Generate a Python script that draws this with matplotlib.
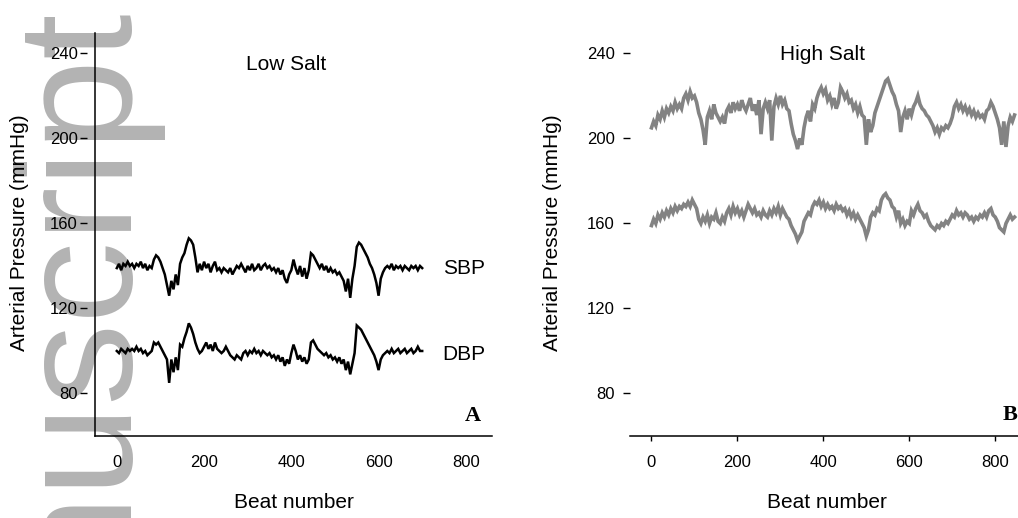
import numpy as np
import matplotlib
matplotlib.use("Agg")
import matplotlib.pyplot as plt

# ---------------- data (one value every 5 beats) ----------------
beat_step = 5

low_sbp = [139,141,138,141,140,142,140,141,139,141,140,142,139,141,138,140,139,
           143,145,144,142,139,136,131,126,133,129,
           136,131,141,144,146,150,153,152,150,144,
           137,141,138,142,139,141,137,140,142,138,
           139,137,139,138,137,139,136,138,140,139,
           141,139,137,140,138,141,138,139,141,138,
           140,
           141,139,140,138,139,137,139,136,138,134,
           132,136,138,143,139,136,140,135,139,134,
           138,146,145,143,141,139,141,138,140,137,
           139,137,138,136,137,135,133,128,134,125,
           134,140,149,151,150,148,146,144,141,139,
           136,132,126,134,137,139,140,139,141,138,
           140,139,140,138,140,139,138,140,139,140,
           138,140,139]

low_dbp = [100,99,101,100,99,101,100,101,100,102,100,101,99,100,98,99,100,
           104,103,104,102,100,98,96,85,96,90,
           97,91,103,102,106,109,113,111,108,104,
           101,99,100,102,104,101,103,100,104,101,
           100,99,100,102,100,98,97,96,98,97,
           96,99,100,98,100,99,101,99,100,98,
           100,
           99,98,99,97,98,96,98,95,97,93,
           96,94,99,103,100,96,98,95,97,94,
           96,104,105,103,101,100,99,98,99,97,
           98,96,97,95,97,94,96,91,95,89,
           94,99,112,111,110,108,106,104,102,100,
           98,95,91,96,98,99,100,99,101,99,
           100,101,99,100,101,99,100,101,99,100,
           102,100,100]

high_sbp = [205,208,206,211,209,213,210,214,212,215,
            213,217,214,216,214,219,221,218,222,219,
            220,217,212,209,204,197,210,213,209,216,
            212,210,208,210,207,213,215,212,217,214,
            216,213,218,215,213,216,219,213,216,211,
            218,202,214,217,214,218,199,215,219,216,
            220,216,218,214,213,207,202,199,195,200,
            197,205,210,213,208,216,214,219,222,224,
            221,223,218,220,216,219,214,217,224,222,
            219,221,217,218,214,216,212,215,211,210,
            197,209,203,206,212,215,218,221,224,227,
            228,225,222,220,216,213,203,210,213,209,
            214,211,215,217,220,216,214,213,211,210,
            208,206,203,205,202,205,204,206,205,207,
            210,215,217,214,216,213,215,212,214,211,
            213,210,212,210,211,209,213,214,217,215,
            212,209,205,197,208,196,206,210,208,211]

high_dbp = [159,162,160,164,162,165,163,166,164,167,
            165,168,166,168,167,169,168,170,168,171,
            169,167,162,160,163,161,164,160,163,162,
            165,161,160,163,161,165,167,164,168,165,
            167,164,166,163,166,169,167,165,167,164,
            165,163,166,164,163,166,164,167,165,168,
            164,167,165,163,162,159,157,155,152,154,
            156,161,163,165,164,168,170,169,171,168,
            170,167,169,167,168,166,169,167,168,166,
            167,164,166,163,165,162,164,162,160,158,
            154,157,163,165,164,167,166,171,173,174,
            172,171,168,167,163,166,160,162,159,161,
            160,166,164,167,169,166,165,163,164,161,
            159,158,157,159,158,160,159,161,160,162,
            164,163,166,164,165,163,165,164,162,163,
            161,163,162,164,163,165,163,166,167,164,
            163,161,158,157,156,160,162,164,162,163]

x_ticks = [0, 200, 400, 600, 800]
y_ticks = [80, 120, 160, 200, 240]
panel_titles = ["Low Salt", "High Salt"]
series_names = ["SBP", "DBP"]
panel_letters = ["A", "B"]
x_label = "Beat number"
y_label = "Arterial Pressure (mmHg)"

# ---------------- figure ----------------
W, H = 1018, 518
SANS = "Liberation Sans"
fig = plt.figure(figsize=(W / 100, H / 100), dpi=100)
fig.patch.set_facecolor("white")

def fx(px):
    return px / W

def fy(py):
    return 1 - py / H

# watermark behind everything
fig.text(fx(121), fy(576), "nuscript", rotation=90, rotation_mode="anchor",
         ha="left", va="baseline", fontsize=118, color="#b3b3b3",
         family=SANS, zorder=-10)

axA = fig.add_axes([fx(95), (H - 436) / H, 397 / W, 403 / H])
axB = fig.add_axes([fx(630), (H - 436) / H, 391 / W, 403 / H])

# Panel A
bA_s = np.arange(len(low_sbp)) * beat_step
bA_d = np.arange(len(low_dbp)) * beat_step
axA.plot(bA_s, low_sbp, color="black", lw=1.8, solid_joinstyle="miter")
axA.plot(bA_d, low_dbp, color="black", lw=1.8, solid_joinstyle="miter")
axA.spines["left"].set_position(("outward", 5.8))
axA.spines["left"].set_visible(False)
axA.plot([0, 0], [0, 1], transform=axA.transAxes, color="black", lw=1.1,
         clip_on=False)

# Panel B
bB_s = np.arange(len(high_sbp)) * beat_step
bB_d = np.arange(len(high_dbp)) * beat_step
axB.plot(bB_s, high_sbp, color="#838383", lw=2.6, solid_joinstyle="miter")
axB.plot(bB_d, high_dbp, color="#838383", lw=2.6, solid_joinstyle="miter")
axB.spines["left"].set_visible(False)

for ax in (axA, axB):
    ax.set_facecolor("none")
    ax.set_xlim(-50, 860)
    ax.set_ylim(60, 249.6)
    ax.set_xticks(x_ticks)
    ax.set_yticks(y_ticks)
    ax.spines["top"].set_visible(False)
    ax.spines["right"].set_visible(False)
    ax.spines["bottom"].set_linewidth(1.1)
    ax.tick_params(labelsize=12, labelfontfamily=SANS, width=1)

axA.tick_params(axis="y", length=5, pad=1.5)
axA.tick_params(axis="x", length=0, pad=13.5)
axB.tick_params(axis="y", length=5, pad=5.8)
axB.tick_params(axis="x", length=3.6, pad=10)

# texts
fig.text(fx(286), fy(64), panel_titles[0], ha="center", va="center",
         fontsize=15, family=SANS)
fig.text(fx(823), fy(55), panel_titles[1], ha="center", va="center",
         fontsize=15, family=SANS)
fig.text(fx(464), fy(268), series_names[0], ha="center", va="center",
         fontsize=15, family=SANS)
fig.text(fx(464), fy(354), series_names[1], ha="center", va="center",
         fontsize=15, family=SANS)
fig.text(fx(473), fy(416), panel_letters[0], ha="center", va="center",
         fontsize=16, family="Liberation Serif", weight="bold")
fig.text(fx(1010), fy(415), panel_letters[1], ha="center", va="center",
         fontsize=16, family="Liberation Serif", weight="bold")
fig.text(fx(294), fy(502), x_label, ha="center", va="center",
         fontsize=15, family=SANS)
fig.text(fx(827), fy(502), x_label, ha="center", va="center",
         fontsize=15, family=SANS)
fig.text(fx(20), fy(233), y_label, ha="center", va="center", rotation=90,
         fontsize=15, family=SANS)
fig.text(fx(552), fy(233), y_label, ha="center", va="center", rotation=90,
         fontsize=15, family=SANS)

fig.savefig("out.png", dpi=100)
